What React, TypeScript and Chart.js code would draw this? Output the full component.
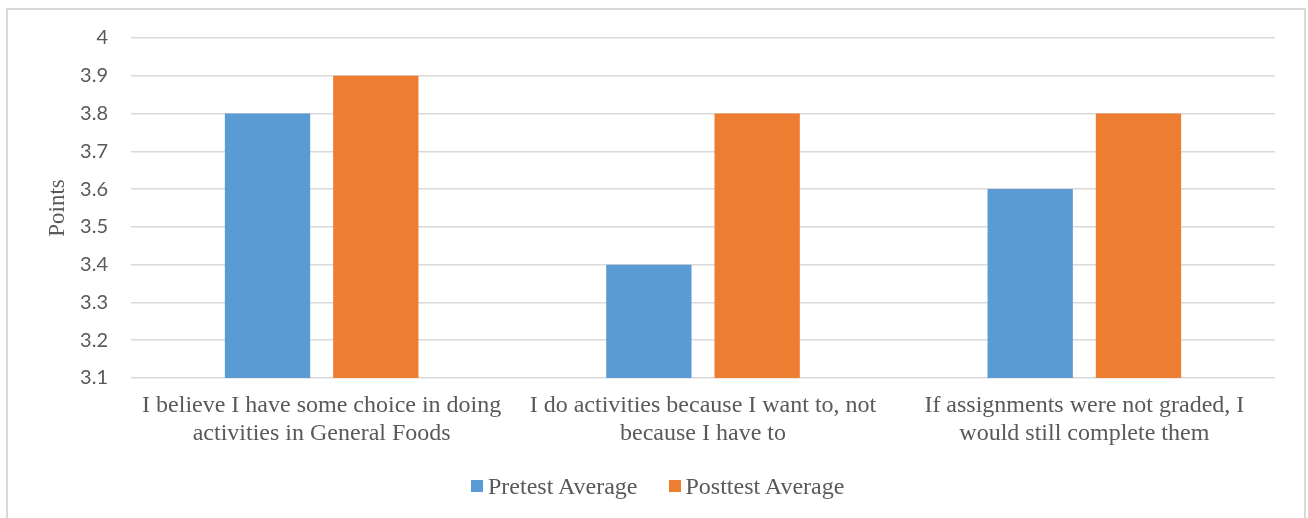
import React, { useEffect, useRef } from "react";
import { Chart, registerables } from "chart.js";

Chart.register(...registerables);

// Survey statements shown along the horizontal axis (wrapped onto two lines)
const categories: string[][] = [
  ["I believe I have some choice in doing", "activities in General Foods"],
  ["I do activities because I want to, not", "because I have to"],
  ["If assignments were not graded, I", "would still complete them"],
];

const seriesNames = ["Pretest Average", "Posttest Average"];
const pretestAverage = [3.8, 3.4, 3.6];
const posttestAverage = [3.9, 3.8, 3.8];

const yMin = 3.1;
const yMax = 4;
const yStep = 0.1;

const BLUE = "#5B9BD5";
const ORANGE = "#ED7D31";
const TEXT = "#595959";
const GRID = "#D9D9D9";
const SERIF = "'Liberation Serif', 'Times New Roman', serif";
const SANS = "Lato, 'Open Sans', sans-serif";

export default function App() {
  const canvasRef = useRef<HTMLCanvasElement | null>(null);

  useEffect(() => {
    const canvas = canvasRef.current;
    if (!canvas) return;
    const chart = new Chart(canvas, {
      type: "bar",
      data: {
        labels: categories,
        datasets: [
          {
            label: seriesNames[0],
            data: pretestAverage,
            backgroundColor: BLUE,
            borderWidth: 0,
            categoryPercentage: 0.568,
            barPercentage: 0.788,
          },
          {
            label: seriesNames[1],
            data: posttestAverage,
            backgroundColor: ORANGE,
            borderWidth: 0,
            categoryPercentage: 0.568,
            barPercentage: 0.788,
          },
        ],
      },
      options: {
        animation: false,
        responsive: true,
        maintainAspectRatio: false,
        layout: { padding: { left: 0, top: 38, right: 33, bottom: 0 } },
        plugins: {
          legend: { display: false },
          tooltip: { enabled: false },
        },
        scales: {
          x: {
            grid: { display: false, drawTicks: false },
            border: { display: false },
            ticks: {
              color: TEXT,
              padding: 14,
              maxRotation: 0,
              autoSkip: false,
              font: { family: SERIF, size: 24, lineHeight: 1.15 },
            },
            afterFit: (scale: any) => {
              scale.height = 140;
            },
          },
          y: {
            min: yMin,
            max: yMax,
            grid: { color: GRID, lineWidth: 1.5, drawTicks: false },
            border: { display: false },
            ticks: {
              stepSize: yStep,
              color: TEXT,
              padding: 23,
              font: { family: SANS, size: 20 },
              callback: (v: any) => String(Math.round(Number(v) * 10) / 10),
            },
            title: {
              display: true,
              text: "Points",
              color: TEXT,
              font: { family: SERIF, size: 23 },
              padding: { top: 44, bottom: 0 },
            },
            afterFit: (scale: any) => {
              scale.width = 131;
            },
          },
        },
      },
    });
    return () => chart.destroy();
  }, []);

  const legendItem = (color: string, text: string, gap: number) => (
    <span style={{ display: "inline-flex", alignItems: "center", marginRight: gap }}>
      <span
        style={{
          display: "inline-block",
          width: 12,
          height: 12,
          background: color,
          marginRight: 5,
        }}
      />
      <span>{text}</span>
    </span>
  );

  return (
    <div
      style={{
        position: "absolute",
        left: 0,
        top: 0,
        width: 1308,
        height: 518,
        overflow: "hidden",
        background: "#fff",
      }}
    >
      <div
        style={{
          position: "absolute",
          left: 6,
          top: 8,
          width: 1300,
          height: 510,
          boxSizing: "border-box",
          borderTop: `2px solid ${GRID}`,
          borderLeft: `2px solid ${GRID}`,
          borderRight: `2px solid ${GRID}`,
        }}
      />
      <div style={{ position: "absolute", left: 0, top: 0, width: 1308, height: 518 }}>
        <canvas ref={canvasRef} />
      </div>
      <div
        style={{
          position: "absolute",
          left: 471,
          top: 472,
          height: 28,
          display: "flex",
          alignItems: "center",
          fontFamily: SERIF,
          fontSize: 24,
          color: TEXT,
          whiteSpace: "nowrap",
        }}
      >
        {legendItem(BLUE, seriesNames[0], 31)}
        {legendItem(ORANGE, seriesNames[1], 0)}
      </div>
    </div>
  );
}
